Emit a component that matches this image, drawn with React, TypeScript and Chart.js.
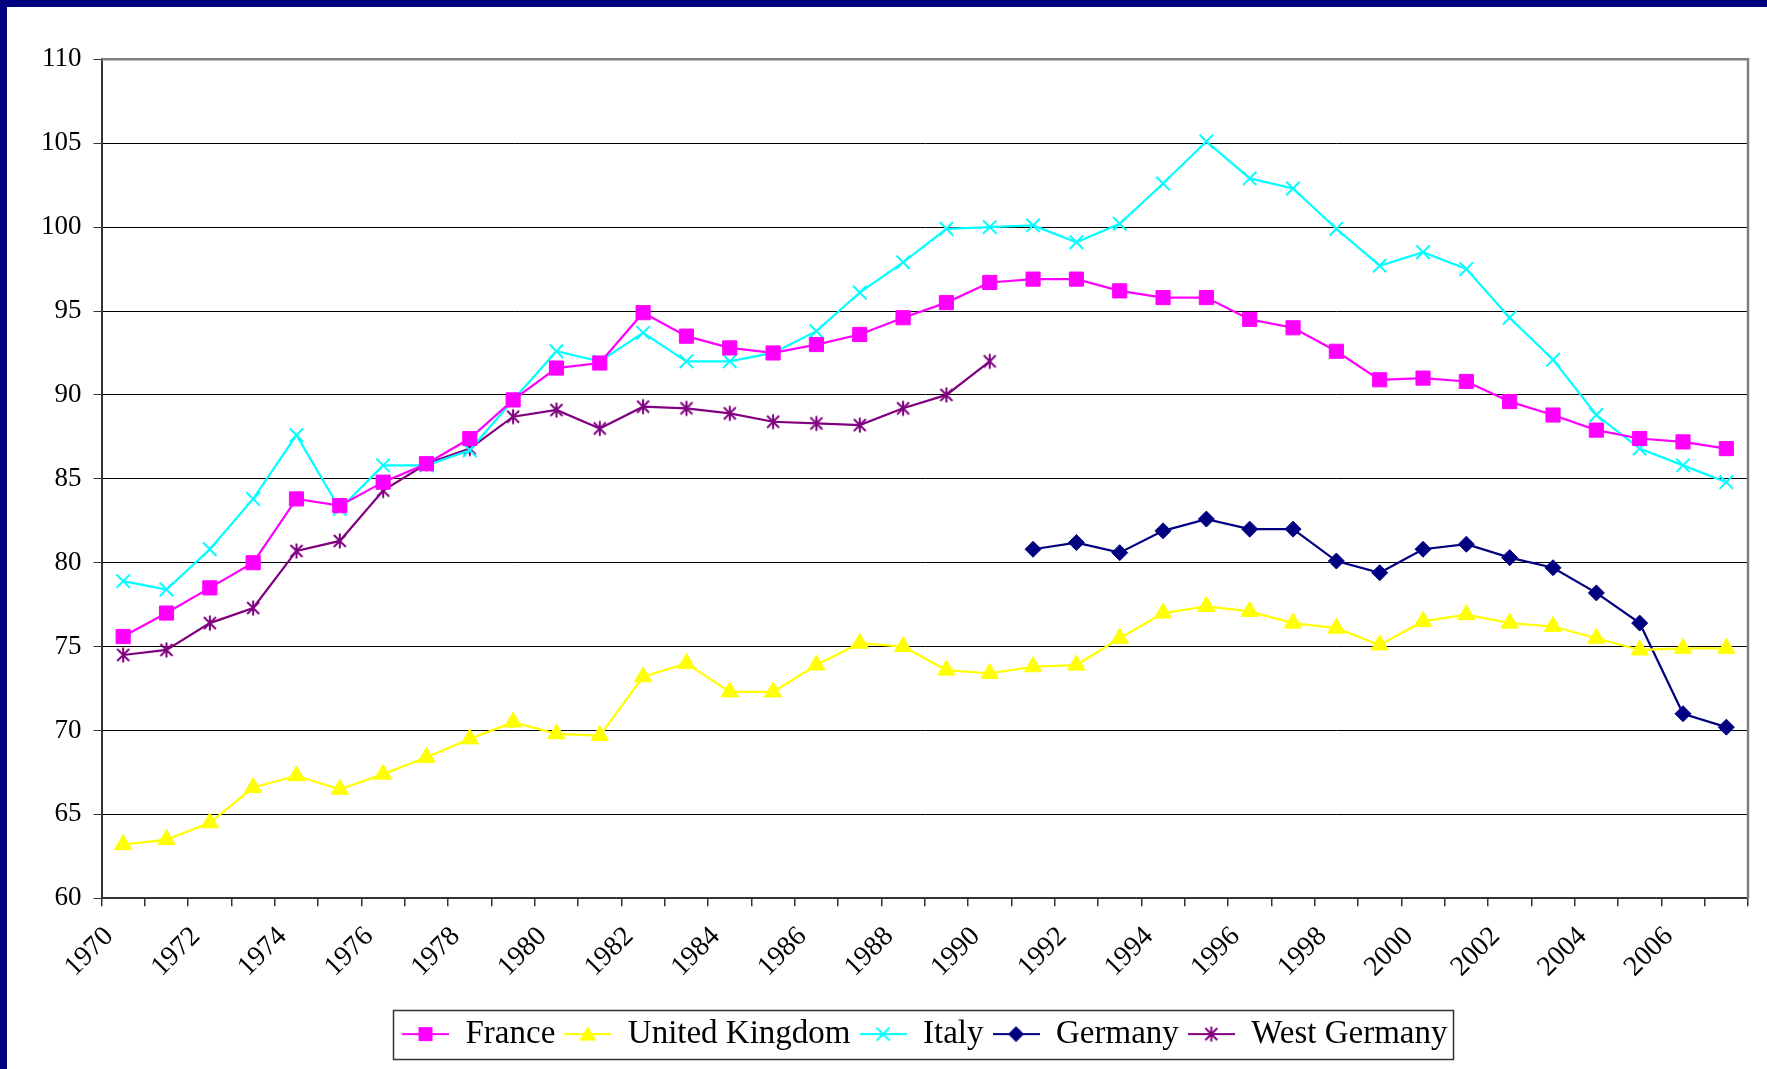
import React, { useEffect, useRef } from 'react';
import { Chart, registerables } from 'chart.js';

Chart.register(...registerables);

const years = [
  '1970', '1971', '1972', '1973', '1974', '1975', '1976', '1977', '1978', '1979',
  '1980', '1981', '1982', '1983', '1984', '1985', '1986', '1987', '1988', '1989',
  '1990', '1991', '1992', '1993', '1994', '1995', '1996', '1997', '1998', '1999',
  '2000', '2001', '2002', '2003', '2004', '2005', '2006', '2007',
];

const france = [
  75.6, 77.0, 78.5, 80.0, 83.8, 83.4, 84.8, 85.9, 87.4, 89.7,
  91.6, 91.9, 94.9, 93.5, 92.8, 92.5, 93.0, 93.6, 94.6, 95.5,
  96.7, 96.9, 96.9, 96.2, 95.8, 95.8, 94.5, 94.0, 92.6, 90.9,
  91.0, 90.8, 89.6, 88.8, 87.9, 87.4, 87.2, 86.8,
];

const unitedKingdom = [
  63.2, 63.5, 64.5, 66.6, 67.3, 66.5, 67.4, 68.4, 69.5, 70.5,
  69.8, 69.7, 73.2, 74.0, 72.3, 72.3, 73.9, 75.2, 75.0, 73.6,
  73.4, 73.8, 73.9, 75.5, 77.0, 77.4, 77.1, 76.4, 76.1, 75.1,
  76.5, 76.9, 76.4, 76.2, 75.5, 74.8, 74.9, 74.9,
];

const italy = [
  78.9, 78.4, 80.8, 83.8, 87.6, 83.2, 85.8, 85.8, 86.7, 89.7,
  92.6, 92.0, 93.7, 92.0, 92.0, 92.5, 93.8, 96.1, 97.9, 99.9,
  100.0, 100.1, 99.1, 100.2, 102.6, 105.1, 102.9, 102.3, 99.9, 97.7,
  98.5, 97.5, 94.6, 92.1, 88.8, 86.8, 85.8, 84.8,
];

const germany = [
  null, null, null, null, null, null, null, null, null, null,
  null, null, null, null, null, null, null, null, null, null,
  null, 80.8, 81.2, 80.6, 81.9, 82.6, 82.0, 82.0, 80.1, 79.4,
  80.8, 81.1, 80.3, 79.7, 78.2, 76.4, 71.0, 70.2,
];

const westGermany = [
  74.5, 74.8, 76.4, 77.3, 80.7, 81.3, 84.3, 85.9, 86.8, 88.7,
  89.1, 88.0, 89.3, 89.2, 88.9, 88.4, 88.3, 88.2, 89.2, 90.0,
  92.0, null, null, null, null, null, null, null, null, null,
  null, null, null, null, null, null, null, null,
];

const seriesNames = ['France', 'United Kingdom', 'Italy', 'Germany', 'West Germany'];
const seriesColors = ['#FF00FF', '#FFFF00', '#00FFFF', '#000080', '#800080'];
const markerKinds = ['square', 'triangle', 'x', 'diamond', 'asterisk'];

const yTicks = [60, 65, 70, 75, 80, 85, 90, 95, 100, 105, 110];

const FONT = "'Liberation Serif', 'Times New Roman', serif";

function drawMarker(ctx: CanvasRenderingContext2D, kind: string, cx: number, cy: number, color: string) {
  ctx.save();
  ctx.fillStyle = color;
  ctx.strokeStyle = color;
  ctx.lineWidth = 2;
  ctx.beginPath();
  if (kind === 'square') {
    ctx.rect(cx - 7, cy - 7, 14, 14);
    ctx.fill();
  } else if (kind === 'triangle') {
    ctx.moveTo(cx, cy - 8);
    ctx.lineTo(cx + 8.5, cy + 6.5);
    ctx.lineTo(cx - 8.5, cy + 6.5);
    ctx.closePath();
    ctx.fill();
  } else if (kind === 'x') {
    ctx.moveTo(cx - 6.5, cy - 6.5);
    ctx.lineTo(cx + 6.5, cy + 6.5);
    ctx.moveTo(cx + 6.5, cy - 6.5);
    ctx.lineTo(cx - 6.5, cy + 6.5);
    ctx.stroke();
  } else if (kind === 'diamond') {
    ctx.moveTo(cx, cy - 8);
    ctx.lineTo(cx + 8, cy);
    ctx.lineTo(cx, cy + 8);
    ctx.lineTo(cx - 8, cy);
    ctx.closePath();
    ctx.fill();
  } else if (kind === 'asterisk') {
    ctx.moveTo(cx - 6, cy - 6);
    ctx.lineTo(cx + 6, cy + 6);
    ctx.moveTo(cx + 6, cy - 6);
    ctx.lineTo(cx - 6, cy + 6);
    ctx.moveTo(cx, cy - 7.5);
    ctx.lineTo(cx, cy + 7.5);
    ctx.stroke();
  }
  ctx.restore();
}

function legendImage(kind: string, color: string) {
  const c = document.createElement('canvas');
  c.width = 47;
  c.height = 20;
  const ctx = c.getContext('2d')!;
  ctx.strokeStyle = color;
  ctx.lineWidth = 2;
  ctx.beginPath();
  ctx.moveTo(0, 10);
  ctx.lineTo(47, 10);
  ctx.stroke();
  drawMarker(ctx, kind, 23.5, 10, color);
  return c;
}

function pointImage(kind: string, color: string) {
  const c = document.createElement('canvas');
  c.width = 18;
  c.height = 18;
  const ctx = c.getContext('2d')!;
  drawMarker(ctx, kind, 9, 9, color);
  return c;
}

const framePlugin = {
  id: 'frameAndLegendBox',
  beforeDatasetsDraw(chart: any) {
    const { ctx, chartArea } = chart;
    ctx.save();
    ctx.strokeStyle = '#808080';
    ctx.lineWidth = 2.5;
    ctx.beginPath();
    ctx.moveTo(chartArea.left, chartArea.top);
    ctx.lineTo(chartArea.right, chartArea.top);
    ctx.lineTo(chartArea.right, chartArea.bottom);
    ctx.stroke();
    ctx.restore();
  },
  afterDraw(chart: any) {
    const boxes = chart.legend && chart.legend.legendHitBoxes;
    if (!boxes || !boxes.length) return;
    const first = boxes[0];
    const last = boxes[boxes.length - 1];
    const { ctx } = chart;
    const l = first.left - 9;
    const r = last.left + last.width + 6;
    const t = first.top - 8;
    const b = first.top + first.height + 8;
    ctx.save();
    ctx.strokeStyle = '#333333';
    ctx.lineWidth = 1.5;
    ctx.strokeRect(Math.round(l) + 0.5, Math.round(t) + 0.5, Math.round(r - l), Math.round(b - t));
    ctx.restore();
  },
};

export default function App() {
  const canvasRef = useRef<HTMLCanvasElement | null>(null);

  useEffect(() => {
    const canvas = canvasRef.current;
    if (!canvas) return;
    const legendImgs = seriesNames.map((_, i) => legendImage(markerKinds[i], seriesColors[i]));
    const asterisk = pointImage('asterisk', seriesColors[4]);
    const values = [france, unitedKingdom, italy, germany, westGermany];
    const pointStyles: any[] = ['rect', 'triangle', 'crossRot', 'rectRot', asterisk];
    const radii = [10, 10, 9.5, 8, 7];

    const chart = new Chart(canvas, {
      type: 'line',
      data: {
        labels: years,
        datasets: values.map((v, i) => ({
          label: seriesNames[i],
          data: v,
          borderColor: seriesColors[i],
          backgroundColor: seriesColors[i],
          borderWidth: 2.2,
          pointStyle: pointStyles[i],
          pointRadius: radii[i],
          pointBorderWidth: i === 2 ? 2 : 1,
          pointBackgroundColor: seriesColors[i],
          pointBorderColor: seriesColors[i],
          tension: 0,
          spanGaps: false,
          fill: false,
        })),
      },
      plugins: [framePlugin],
      options: {
        responsive: false,
        animation: false,
        events: [],
        layout: { padding: { top: 52.3, right: 19, bottom: 8.4, left: 0 } },
        plugins: {
          tooltip: { enabled: false },
          title: { display: false },
          legend: {
            display: true,
            position: 'bottom',
            fullSize: false,
            labels: {
              usePointStyle: true,
              pointStyleWidth: 47,
              padding: 9,
              color: '#000',
              font: { family: FONT, size: 33 },
              generateLabels: () =>
                seriesNames.map((name, i) => ({
                  text: name,
                  pointStyle: legendImgs[i],
                  fillStyle: seriesColors[i],
                  strokeStyle: seriesColors[i],
                  lineWidth: 0,
                  hidden: false,
                  datasetIndex: i,
                })),
            },
          },
        },
        scales: {
          x: {
            type: 'category',
            offset: true,
            afterFit: (s: any) => {
              s.height = 110.3;
            },
            grid: {
              offset: true,
              drawOnChartArea: false,
              drawTicks: true,
              tickLength: 8,
              tickColor: '#333',
              lineWidth: 1.5,
            },
            border: { display: true, color: '#333', width: 2 },
            ticks: {
              autoSkip: false,
              maxRotation: 45,
              minRotation: 45,
              padding: 14,
              labelOffset: -14,
              color: '#000',
              font: { family: FONT, size: 28 },
              callback: (_v: any, i: number) => (i % 2 === 0 ? years[i] : ''),
            },
          },
          y: {
            min: 60,
            max: 110,
            afterFit: (s: any) => {
              s.width = 94.5;
            },
            afterBuildTicks: (s: any) => {
              s.ticks = yTicks.map((v) => ({ value: v }));
            },
            grid: {
              color: '#000',
              lineWidth: 1,
              drawTicks: true,
              tickLength: 8,
              tickColor: '#333',
            },
            border: { display: true, color: '#333', width: 2 },
            ticks: {
              padding: 12,
              color: '#000',
              font: { family: FONT, size: 27 },
            },
          },
        },
      },
    } as any);

    return () => {
      chart.destroy();
    };
  }, []);

  return (
    <div
      style={{
        position: 'fixed',
        left: 0,
        top: 0,
        width: 1767,
        height: 1069,
        boxSizing: 'border-box',
        background: '#ffffff',
        borderTop: '7px solid #000080',
        borderLeft: '7px solid #000080',
      }}
    >
      <canvas ref={canvasRef} width={1760} height={1062} style={{ display: 'block' }} />
    </div>
  );
}
